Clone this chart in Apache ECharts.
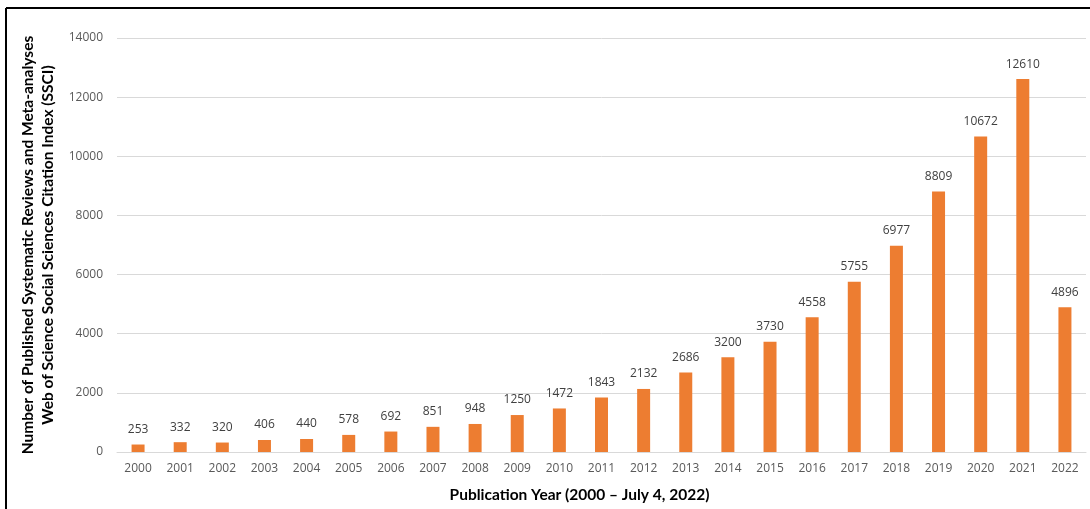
<!DOCTYPE html>
<html>
<head>
<meta charset="utf-8">
<script src="https://cdn.jsdelivr.net/npm/echarts@6/dist/echarts.min.js"></script>
<style>
html,body{margin:0;padding:0;background:#fff;}
#c{width:1090px;height:509px;}
</style>
</head>
<body>
<div id="c"></div>
<script>
const years = ['2000','2001','2002','2003','2004','2005','2006','2007','2008','2009','2010','2011','2012','2013','2014','2015','2016','2017','2018','2019','2020','2021','2022'];
const counts = [253,332,320,406,440,578,692,851,948,1250,1472,1843,2132,2686,3200,3730,4558,5755,6977,8809,10672,12610,4896];
const yTitle = 'Number of Published Systematic Reviews and Meta-analyses\nWeb of Science Social Sciences Citation Index (SSCI)';
const xTitle = 'Publication Year (2000 \u2013 July 4, 2022)';

const chart = echarts.init(document.getElementById('c'), null, {renderer:'canvas'});
chart.setOption({
  animation:false,
  backgroundColor:'#fff',
  grid:{left:117,right:4,top:38,bottom:57,containLabel:false},
  xAxis:{
    type:'category',
    data:years,
    name:xTitle,
    nameLocation:'middle',
    nameGap:35,
    nameTextStyle:{fontFamily:'Lato',fontWeight:'bold',fontSize:15.5,color:'#000',padding:[0,44,0,0]},
    axisLine:{lineStyle:{color:'#d9d9d9'}},
    axisTick:{show:false},
    axisLabel:{fontFamily:'Open Sans',fontSize:12,color:'#595959',margin:11}
  },
  yAxis:{
    type:'value',
    min:0,max:14000,interval:2000,
    name:yTitle,
    nameLocation:'middle',
    nameRotate:90,
    nameGap:56,
    nameTextStyle:{fontFamily:'Lato',fontWeight:'bold',fontSize:15.5,color:'#000',lineHeight:20},
    axisLine:{show:false},
    axisTick:{show:false},
    axisLabel:{fontFamily:'Open Sans',fontSize:12,color:'#595959',margin:14,formatter:function(v){return String(v);}},
    splitLine:{lineStyle:{color:'#d9d9d9'}}
  },
  series:[{
    type:'bar',
    data:counts,
    barWidth:13,
    itemStyle:{color:'#ED7D31'},
    label:{show:true,position:'top',distance:9,fontFamily:'Open Sans',fontSize:12,color:'#404040'}
  }],
  graphic:[
    {type:'line',shape:{x1:6,y1:8,x2:1090,y2:8},style:{stroke:'#000',lineWidth:2}},
    {type:'line',shape:{x1:6,y1:8,x2:6,y2:509},style:{stroke:'#000',lineWidth:2}}
  ]
});
</script>
</body>
</html>
